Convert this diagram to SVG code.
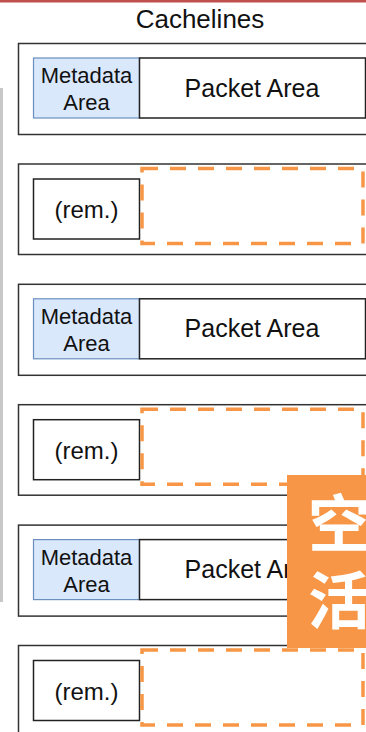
<svg xmlns="http://www.w3.org/2000/svg" width="366" height="732" viewBox="0 0 366 732">
  <defs>
    <style>
      .outer { fill: #ffffff; stroke: #333333; stroke-width: 1.5; }
      .meta { fill: #dae8fc; stroke: #6c8ebf; stroke-width: 1.2; }
      .box { fill: #ffffff; stroke: #222222; stroke-width: 1.5; }
      .free { fill: none; stroke: #f79646; stroke-width: 3.5; stroke-dasharray: 16 12; }
      .lbl { font-family: "Liberation Sans", Arial, sans-serif; fill: #111111; text-anchor: middle; }
      .cjk { font-family: "Noto Sans CJK SC", sans-serif; font-weight: bold; fill: #ffffff; }
    </style>
    <!-- cacheline holding metadata + packet data -->
    <g id="lineData">
      <rect class="outer" x="18.5" y="0" width="360" height="91"/>
      <rect class="meta" x="33.5" y="14.5" width="106" height="60"/>
      <rect class="box" x="139.5" y="14.5" width="226" height="60"/>
      <text class="lbl" x="86.5" y="39.5" font-size="22">Metadata</text>
      <text class="lbl" x="86.5" y="66.5" font-size="22">Area</text>
      <text class="lbl" x="252" y="53" font-size="25">Packet Area</text>
    </g>
    <!-- cacheline with remainder and unused space -->
    <g id="lineRem">
      <rect class="outer" x="18.5" y="0" width="360" height="90.5"/>
      <rect class="box" x="33.5" y="15" width="106" height="60"/>
      <text class="lbl" x="86.5" y="54" font-size="24">(rem.)</text>
      <rect class="free" x="142" y="4.5" width="221" height="75"/>
    </g>
  </defs>

  <rect x="0" y="0" width="366" height="732" fill="#ffffff"/>
  <rect x="0" y="0" width="366" height="2.5" fill="#c0504d"/>
  <rect x="0" y="88" width="3" height="514" fill="#c8c8c8"/>

  <text class="lbl" x="200" y="28" font-size="26">Cachelines</text>

  <g id="row1" transform="translate(0,43.5)"><use href="#lineData"/></g>
  <g id="row2" transform="translate(0,164)"><use href="#lineRem"/></g>
  <g id="row3" transform="translate(0,284.3)"><use href="#lineData"/></g>
  <g id="row4" transform="translate(0,404.7)"><use href="#lineRem"/></g>
  <g id="row5" transform="translate(0,525.1)"><use href="#lineData"/></g>
  <g id="row6" transform="translate(0,645.5)"><use href="#lineRem"/></g>

  <g id="tag">
    <rect x="287" y="475" width="80" height="173" fill="#f79646"/>
    <text class="cjk" x="308" y="547" font-size="62">空</text>
    <text class="cjk" x="308" y="624" font-size="62">活</text>
  </g>
</svg>
